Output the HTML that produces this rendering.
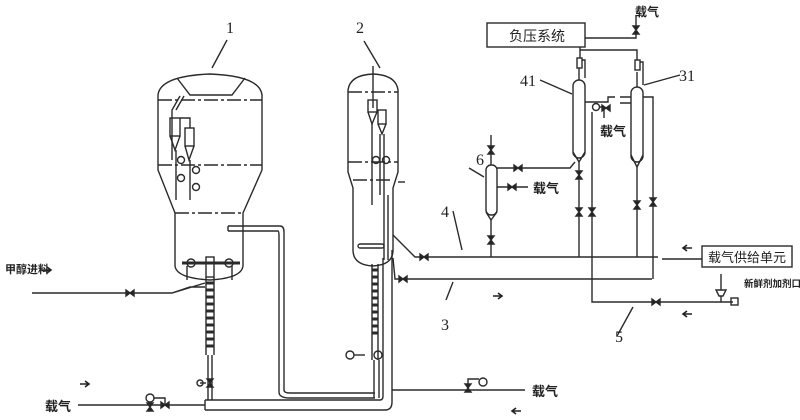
<!DOCTYPE html>
<html><head><meta charset="utf-8"><style>
html,body{margin:0;padding:0;background:#fff;}
svg{display:block;}
text{font-family:"Liberation Serif","Noto Serif CJK SC","Noto Sans CJK SC",serif;fill:#222;}
.c{font-family:"Liberation Sans","Noto Sans CJK SC",sans-serif;}
</style></head><body>
<svg width="800" height="420" viewBox="0 0 800 420" xmlns="http://www.w3.org/2000/svg">
<defs>
<g id="v"><path d="M-4,-3 L0,0 L-4,3 Z M4,-3 L0,0 L4,3 Z" fill="#222"/></g>
<g id="vv"><path d="M-3,-4 L0,0 L3,-4 Z M-3,4 L0,0 L3,4 Z" fill="#222"/></g>
</defs>
<g fill="none" stroke="#2a2a2a" stroke-width="1.4">
<path d="M158,170 L158,95 Q160,76 210,74 Q260,76 262,95 L262,170 L243,213 L243,265 Q243,278 210,280 Q175,278 175,265 L175,213 Z"/>
<path d="M177,78 L190,95 L232,95 L245,78"/>
<path d="M158,100 H262 M158,165 H262 M175,213 H243" stroke-dasharray="14,3,3,3"/>
<path d="M180,96 L172,110 V160 M184,96 L176,110"/>
<rect x="170" y="118" width="10" height="18"/><path d="M170,136 L175,150 L180,136"/>
<rect x="185" y="128" width="9" height="18"/><path d="M185,146 L189,160 L194,146"/>
<path d="M176,150 V200 M190,160 V200 M180,118 H190 V128"/>
<circle cx="181" cy="160" r="3.5"/><circle cx="181" cy="178" r="3.5"/><circle cx="196" cy="170" r="3.5"/><circle cx="196" cy="187" r="3.5"/>
<path d="M182,263 H240" stroke-width="3"/>
<circle cx="191" cy="263" r="4"/><circle cx="229" cy="263" r="4"/>
<path d="M187,266 V280 M232,266 V280"/>
<rect x="206" y="257" width="8" height="20"/>
<path d="M206,277 V355 M214,277 V355" />
<path d="M206,283 H214 M206,290 H214 M206,297 H214 M206,304 H214 M206,311 H214 M206,318 H214 M206,325 H214 M206,332 H214 M206,339 H214 M206,346 H214" stroke-width="3"/>
<path d="M208,355 V400 M212,355 V400"/>
<use href="#vv" x="210" y="383"/><path d="M200,383 H206"/><circle cx="200" cy="383" r="3"/>
<path d="M32,293 H172 L205,283 M172,293 L190,287 H205"/>
<use href="#v" x="130" y="293"/>
<path d="M78,405 H205"/>
<circle cx="150" cy="398" r="4"/><use href="#vv" x="150" y="407"/><path d="M154,398 H165 V405"/><use href="#v" x="165" y="405"/>
<path d="M205,400 H380 Q383,400 383,396 V258 M205,410 H385 Q392,410 392,402 V250"/>
<path d="M205,400 V410"/>
<path d="M228,226 H280 Q284,226 284,232 V390 Q284,393 290,393 H375 M228,231 H278 Q279,231 279,236 V392 Q279,398 290,398 H375 M228,226 V231"/>
<path d="M348,172 V90 Q350,75 373,74 Q396,75 398,90 V172 L393,188 V250 Q393,265 373,266 Q353,265 353,250 V188 L348,172 Z"/>
<path d="M348,92 H398 M348,162 H398 M353,180 H393" stroke-dasharray="14,3,3,3"/>
<path d="M373,66 V108"/>
<rect x="368" y="100" width="9" height="12"/><path d="M368,112 L372,124 L377,112"/>
<rect x="378" y="110" width="8" height="14"/><path d="M378,124 L382,134 L386,124"/>
<path d="M372,124 V205 M380,134 V195 M384,134 V260 M388,195 V260"/>
<circle cx="376" cy="160" r="3.5"/><circle cx="386" cy="160" r="3.5"/>
<path d="M398,182 H405"/>
<rect x="358" y="244" width="26" height="4" rx="2"/>
<path d="M372,264 V360 M378,264 V360"/>
<path d="M372,270 H378 M372,277 H378 M372,284 H378 M372,291 H378 M372,298 H378 M372,305 H378 M372,312 H378 M372,319 H378 M372,326 H378 M372,333 H378" stroke-width="3"/>
<path d="M374,360 V398 M379,360 V398"/>
<circle cx="350" cy="355" r="4"/><path d="M354,355 H365"/><circle cx="378" cy="355" r="4"/>
<path d="M392,390 H525"/>
<use href="#vv" x="468" y="388"/><circle cx="483" cy="382" r="4"/><path d="M468,384 V379 H479"/>
<path d="M393,235 L415,257 H658 M662,259 H702"/>
<use href="#v" x="424" y="257"/>
<path d="M393,258 L395,279 H652"/>
<use href="#v" x="403" y="279"/>
<path d="M453,211 L462,250"/><path d="M446,300 L453,282"/>
<rect x="486" y="165" width="11" height="50" rx="5"/>
<path d="M486,212 L491,220 L497,212"/>
<path d="M491,135 V165 M491,220 V257"/><use href="#vv" x="491" y="150"/><use href="#vv" x="491" y="240"/>
<path d="M497,168 H570 L575,162"/><use href="#v" x="518" y="168"/>
<path d="M497,187 H528"/><use href="#v" x="512" y="187"/>
<path d="M469,168 L484,177"/>
<rect x="573" y="80" width="12" height="78" rx="6"/><path d="M573,152 L579,162 L585,152"/>
<path d="M579,162 V257"/><use href="#vv" x="579" y="175"/><use href="#vv" x="579" y="212"/>
<path d="M579,80 V68 M580,47 V58"/><rect x="577" y="58" width="5" height="10"/><path d="M582,60 H585 V78"/>
<path d="M540,80 L572,94"/>
<rect x="631" y="87" width="12" height="75" rx="6"/><path d="M631,155 L637,167 L643,155"/>
<path d="M637,167 V257"/><use href="#vv" x="637" y="205"/>
<path d="M637,87 V72 M580,50 H637 V60"/><rect x="635" y="60" width="5" height="10"/><path d="M640,62 H643 V85"/>
<path d="M644,85 L680,75"/>
<path d="M585,102 H608 V97 H615 M620,97 H631 M620,103 H631"/>
<circle cx="596" cy="107" r="3.5"/><path d="M600,107 H604 V118"/><use href="#v" x="606" y="108"/>
<path d="M592,112 V302 H733"/><use href="#vv" x="592" y="212"/>
<path d="M643,97 H653 V279"/><use href="#vv" x="653" y="202"/>
<use href="#v" x="656" y="302"/>
<path d="M721,274 V290"/><path d="M716,290 H726 L723,296 H719 Z" fill="#fff"/><path d="M721,296 V302"/>
<rect x="731" y="298" width="7" height="7"/>
<path d="M617,336 L633,307"/>
<rect x="487" y="23" width="98" height="24" fill="#fff"/>
<rect x="702" y="246" width="90" height="21" fill="#fff"/>
<path d="M585,38 H636 V15"/><use href="#vv" x="636" y="30"/>
<path d="M227,40 L212,68 M364,41 L380,68"/>
</g>
<g fill="none" stroke="#222" stroke-width="1.6">
<path d="M42,270 H50 M47,267 L51,270 L47,273"/>
<path d="M80,384 H88 M85,381 L89,384 L85,387"/>
<path d="M493,296 H501 M498,293 L502,296 L498,299"/>
<path d="M692,248 H684 M687,245 L683,248 L687,251"/>
<path d="M692,314 H684 M687,311 L683,314 L687,317"/>
<path d="M521,411 H513 M516,408 L512,411 L516,414"/>
</g>
<text x="226" y="33" font-size="16">1</text>
<text x="356" y="33" font-size="16">2</text>
<text x="520" y="86" font-size="16">41</text>
<text x="679" y="81" font-size="16">31</text>
<text x="476" y="165" font-size="16">6</text>
<text x="441" y="217" font-size="16">4</text>
<text x="441" y="330" font-size="16">3</text>
<text x="615" y="342" font-size="16">5</text>
<text x="509" y="41" font-size="14" class="c">负压系统</text>
<text x="708" y="262" font-size="13" class="c">载气供给单元</text>
<text x="635" y="16" font-size="12" class="c" font-weight="bold">载气</text>
<text x="533" y="193" font-size="13" class="c" font-weight="bold">载气</text>
<text x="600" y="136" font-size="13" class="c" font-weight="bold">载气</text>
<text x="532" y="396" font-size="13" class="c" font-weight="bold">载气</text>
<text x="45" y="411" font-size="13" class="c" font-weight="bold">载气</text>
<text x="5" y="273" font-size="11" class="c" font-weight="bold">甲醇进料</text>
<text x="744" y="287" font-size="9.5" class="c" font-weight="bold">新鲜剂加剂口</text>
</svg>
</body></html>
